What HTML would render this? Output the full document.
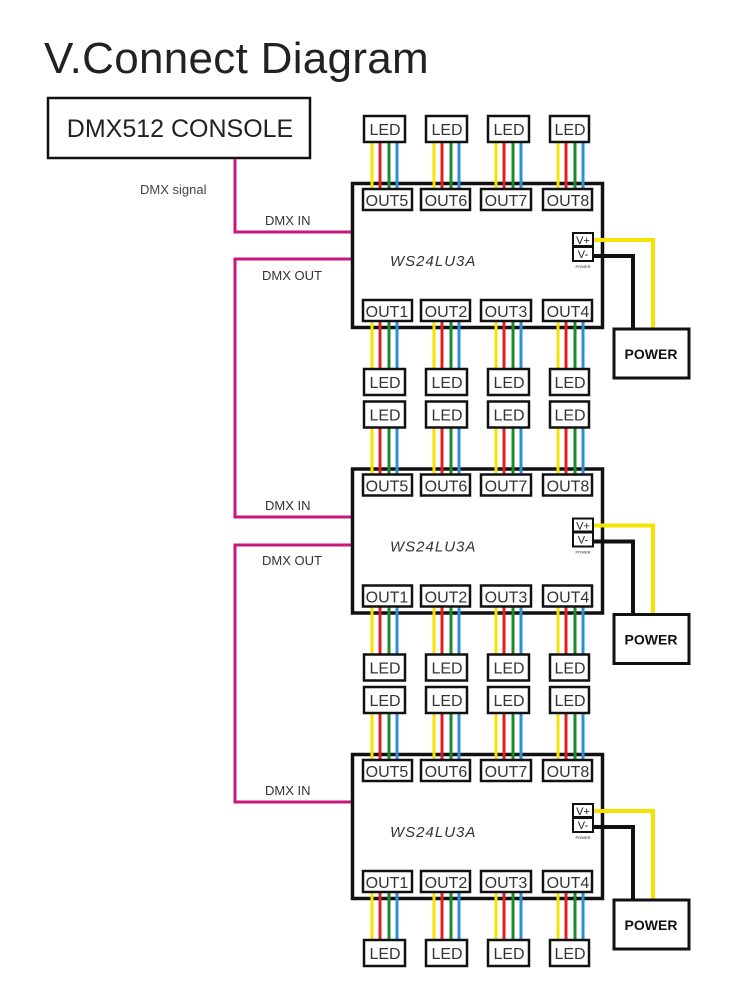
<!DOCTYPE html>
<html><head><meta charset="utf-8"><style>
html,body{margin:0;padding:0;background:#fff;width:750px;height:1000px;overflow:hidden}
svg{display:block}
text{font-family:"Liberation Sans",Arial,sans-serif}
</style></head><body>
<svg width="750" height="1000" viewBox="0 0 750 1000" xmlns="http://www.w3.org/2000/svg">
<text x="44" y="73" font-size="44" fill="#222" letter-spacing="0.3">V.Connect Diagram</text>
<rect x="48" y="98" width="262" height="60" fill="#fff" stroke="#111" stroke-width="2.5"/>
<text x="180" y="137" font-size="25" fill="#222" text-anchor="middle">DMX512 CONSOLE</text>
<text x="140" y="194" font-size="13" fill="#444">DMX  signal</text>
<g fill="none" stroke="#c8177f" stroke-width="3">
<polyline points="235,159 235,232 352,232"/>
<polyline points="352,259 235,259 235,517 352,517"/>
<polyline points="352,545 235,545 235,802 352,802"/>
</g>
<g font-size="13" fill="#333">
<text x="265" y="225">DMX IN</text>
<text x="262" y="280">DMX OUT</text>
<text x="265" y="510">DMX IN</text>
<text x="262" y="565">DMX OUT</text>
<text x="265" y="795">DMX IN</text>
</g>

<g id="m1">
<rect x="352.5" y="183.5" width="250" height="144" fill="none" stroke="#111" stroke-width="3.5"/>
<g stroke-width="3">
<line x1="372" y1="142" x2="372" y2="189" stroke="#f5e400"/><line x1="380" y1="142" x2="380" y2="189" stroke="#e02020"/><line x1="389" y1="142" x2="389" y2="189" stroke="#1a8a30"/><line x1="397" y1="142" x2="397" y2="189" stroke="#2a90d8"/>
<line x1="434" y1="142" x2="434" y2="189" stroke="#f5e400"/><line x1="442" y1="142" x2="442" y2="189" stroke="#e02020"/><line x1="451" y1="142" x2="451" y2="189" stroke="#1a8a30"/><line x1="459" y1="142" x2="459" y2="189" stroke="#2a90d8"/>
<line x1="496" y1="142" x2="496" y2="189" stroke="#f5e400"/><line x1="504" y1="142" x2="504" y2="189" stroke="#e02020"/><line x1="513" y1="142" x2="513" y2="189" stroke="#1a8a30"/><line x1="521" y1="142" x2="521" y2="189" stroke="#2a90d8"/>
<line x1="558" y1="142" x2="558" y2="189" stroke="#f5e400"/><line x1="566" y1="142" x2="566" y2="189" stroke="#e02020"/><line x1="575" y1="142" x2="575" y2="189" stroke="#1a8a30"/><line x1="583" y1="142" x2="583" y2="189" stroke="#2a90d8"/>
<line x1="372" y1="321" x2="372" y2="369" stroke="#f5e400"/><line x1="380" y1="321" x2="380" y2="369" stroke="#e02020"/><line x1="389" y1="321" x2="389" y2="369" stroke="#1a8a30"/><line x1="397" y1="321" x2="397" y2="369" stroke="#2a90d8"/>
<line x1="434" y1="321" x2="434" y2="369" stroke="#f5e400"/><line x1="442" y1="321" x2="442" y2="369" stroke="#e02020"/><line x1="451" y1="321" x2="451" y2="369" stroke="#1a8a30"/><line x1="459" y1="321" x2="459" y2="369" stroke="#2a90d8"/>
<line x1="496" y1="321" x2="496" y2="369" stroke="#f5e400"/><line x1="504" y1="321" x2="504" y2="369" stroke="#e02020"/><line x1="513" y1="321" x2="513" y2="369" stroke="#1a8a30"/><line x1="521" y1="321" x2="521" y2="369" stroke="#2a90d8"/>
<line x1="558" y1="321" x2="558" y2="369" stroke="#f5e400"/><line x1="566" y1="321" x2="566" y2="369" stroke="#e02020"/><line x1="575" y1="321" x2="575" y2="369" stroke="#1a8a30"/><line x1="583" y1="321" x2="583" y2="369" stroke="#2a90d8"/>
</g>
<g fill="#fff" stroke="#111" stroke-width="2.5">
<rect x="364" y="116" width="41" height="26"/><rect x="426" y="116" width="41" height="26"/><rect x="488" y="116" width="41" height="26"/><rect x="550" y="116" width="39" height="26"/>
<rect x="363" y="189" width="49" height="21"/><rect x="421" y="189" width="49" height="21"/><rect x="481" y="189" width="50" height="21"/><rect x="543" y="189" width="49" height="21"/>
<rect x="363" y="300" width="49" height="21"/><rect x="421" y="300" width="49" height="21"/><rect x="481" y="300" width="50" height="21"/><rect x="543" y="300" width="49" height="21"/>
<rect x="364" y="369" width="41" height="26"/><rect x="426" y="369" width="41" height="26"/><rect x="488" y="369" width="41" height="26"/><rect x="550" y="369" width="39" height="26"/>
</g>
<g font-size="16" fill="#333" text-anchor="middle">
<text x="385" y="135">LED</text><text x="447" y="135">LED</text><text x="509" y="135">LED</text><text x="570" y="135">LED</text>
<text x="387" y="206">OUT5</text><text x="446" y="206">OUT6</text><text x="506" y="206">OUT7</text><text x="568" y="206">OUT8</text>
<text x="387" y="317">OUT1</text><text x="446" y="317">OUT2</text><text x="506" y="317">OUT3</text><text x="568" y="317">OUT4</text>
<text x="385" y="388">LED</text><text x="447" y="388">LED</text><text x="509" y="388">LED</text><text x="570" y="388">LED</text>
</g>
<text x="390" y="266" font-size="15" font-style="italic" fill="#333" letter-spacing="1">WS24LU3A</text>
<polyline points="593,240 653,240 653,329" fill="none" stroke="#f5e400" stroke-width="4"/>
<polyline points="593,256 633,256 633,329" fill="none" stroke="#111" stroke-width="4"/>
<rect x="573" y="233" width="20" height="13" fill="#fff" stroke="#111" stroke-width="2"/>
<rect x="573" y="247" width="20" height="14" fill="#fff" stroke="#111" stroke-width="2"/>
<text x="583" y="244" font-size="11" text-anchor="middle" fill="#222">V+</text>
<text x="583" y="258" font-size="11" text-anchor="middle" fill="#222">V-</text>
<text x="583" y="268" font-size="4" text-anchor="middle" fill="#222">POWER</text>
<rect x="614" y="329" width="75" height="49" fill="#fff" stroke="#111" stroke-width="3"/>
<text x="651" y="359" font-size="14" font-weight="bold" text-anchor="middle" fill="#111">POWER</text>
</g>
<g transform="translate(0,285.5)">
<rect x="352.5" y="183.5" width="250" height="144" fill="none" stroke="#111" stroke-width="3.5"/>
<g stroke-width="3">
<line x1="372" y1="142" x2="372" y2="189" stroke="#f5e400"/><line x1="380" y1="142" x2="380" y2="189" stroke="#e02020"/><line x1="389" y1="142" x2="389" y2="189" stroke="#1a8a30"/><line x1="397" y1="142" x2="397" y2="189" stroke="#2a90d8"/>
<line x1="434" y1="142" x2="434" y2="189" stroke="#f5e400"/><line x1="442" y1="142" x2="442" y2="189" stroke="#e02020"/><line x1="451" y1="142" x2="451" y2="189" stroke="#1a8a30"/><line x1="459" y1="142" x2="459" y2="189" stroke="#2a90d8"/>
<line x1="496" y1="142" x2="496" y2="189" stroke="#f5e400"/><line x1="504" y1="142" x2="504" y2="189" stroke="#e02020"/><line x1="513" y1="142" x2="513" y2="189" stroke="#1a8a30"/><line x1="521" y1="142" x2="521" y2="189" stroke="#2a90d8"/>
<line x1="558" y1="142" x2="558" y2="189" stroke="#f5e400"/><line x1="566" y1="142" x2="566" y2="189" stroke="#e02020"/><line x1="575" y1="142" x2="575" y2="189" stroke="#1a8a30"/><line x1="583" y1="142" x2="583" y2="189" stroke="#2a90d8"/>
<line x1="372" y1="321" x2="372" y2="369" stroke="#f5e400"/><line x1="380" y1="321" x2="380" y2="369" stroke="#e02020"/><line x1="389" y1="321" x2="389" y2="369" stroke="#1a8a30"/><line x1="397" y1="321" x2="397" y2="369" stroke="#2a90d8"/>
<line x1="434" y1="321" x2="434" y2="369" stroke="#f5e400"/><line x1="442" y1="321" x2="442" y2="369" stroke="#e02020"/><line x1="451" y1="321" x2="451" y2="369" stroke="#1a8a30"/><line x1="459" y1="321" x2="459" y2="369" stroke="#2a90d8"/>
<line x1="496" y1="321" x2="496" y2="369" stroke="#f5e400"/><line x1="504" y1="321" x2="504" y2="369" stroke="#e02020"/><line x1="513" y1="321" x2="513" y2="369" stroke="#1a8a30"/><line x1="521" y1="321" x2="521" y2="369" stroke="#2a90d8"/>
<line x1="558" y1="321" x2="558" y2="369" stroke="#f5e400"/><line x1="566" y1="321" x2="566" y2="369" stroke="#e02020"/><line x1="575" y1="321" x2="575" y2="369" stroke="#1a8a30"/><line x1="583" y1="321" x2="583" y2="369" stroke="#2a90d8"/>
</g>
<g fill="#fff" stroke="#111" stroke-width="2.5">
<rect x="364" y="116" width="41" height="26"/><rect x="426" y="116" width="41" height="26"/><rect x="488" y="116" width="41" height="26"/><rect x="550" y="116" width="39" height="26"/>
<rect x="363" y="189" width="49" height="21"/><rect x="421" y="189" width="49" height="21"/><rect x="481" y="189" width="50" height="21"/><rect x="543" y="189" width="49" height="21"/>
<rect x="363" y="300" width="49" height="21"/><rect x="421" y="300" width="49" height="21"/><rect x="481" y="300" width="50" height="21"/><rect x="543" y="300" width="49" height="21"/>
<rect x="364" y="369" width="41" height="26"/><rect x="426" y="369" width="41" height="26"/><rect x="488" y="369" width="41" height="26"/><rect x="550" y="369" width="39" height="26"/>
</g>
<g font-size="16" fill="#333" text-anchor="middle">
<text x="385" y="135">LED</text><text x="447" y="135">LED</text><text x="509" y="135">LED</text><text x="570" y="135">LED</text>
<text x="387" y="206">OUT5</text><text x="446" y="206">OUT6</text><text x="506" y="206">OUT7</text><text x="568" y="206">OUT8</text>
<text x="387" y="317">OUT1</text><text x="446" y="317">OUT2</text><text x="506" y="317">OUT3</text><text x="568" y="317">OUT4</text>
<text x="385" y="388">LED</text><text x="447" y="388">LED</text><text x="509" y="388">LED</text><text x="570" y="388">LED</text>
</g>
<text x="390" y="266" font-size="15" font-style="italic" fill="#333" letter-spacing="1">WS24LU3A</text>
<polyline points="593,240 653,240 653,329" fill="none" stroke="#f5e400" stroke-width="4"/>
<polyline points="593,256 633,256 633,329" fill="none" stroke="#111" stroke-width="4"/>
<rect x="573" y="233" width="20" height="13" fill="#fff" stroke="#111" stroke-width="2"/>
<rect x="573" y="247" width="20" height="14" fill="#fff" stroke="#111" stroke-width="2"/>
<text x="583" y="244" font-size="11" text-anchor="middle" fill="#222">V+</text>
<text x="583" y="258" font-size="11" text-anchor="middle" fill="#222">V-</text>
<text x="583" y="268" font-size="4" text-anchor="middle" fill="#222">POWER</text>
<rect x="614" y="329" width="75" height="49" fill="#fff" stroke="#111" stroke-width="3"/>
<text x="651" y="359" font-size="14" font-weight="bold" text-anchor="middle" fill="#111">POWER</text>
</g>
<g transform="translate(0,571)">
<rect x="352.5" y="183.5" width="250" height="144" fill="none" stroke="#111" stroke-width="3.5"/>
<g stroke-width="3">
<line x1="372" y1="142" x2="372" y2="189" stroke="#f5e400"/><line x1="380" y1="142" x2="380" y2="189" stroke="#e02020"/><line x1="389" y1="142" x2="389" y2="189" stroke="#1a8a30"/><line x1="397" y1="142" x2="397" y2="189" stroke="#2a90d8"/>
<line x1="434" y1="142" x2="434" y2="189" stroke="#f5e400"/><line x1="442" y1="142" x2="442" y2="189" stroke="#e02020"/><line x1="451" y1="142" x2="451" y2="189" stroke="#1a8a30"/><line x1="459" y1="142" x2="459" y2="189" stroke="#2a90d8"/>
<line x1="496" y1="142" x2="496" y2="189" stroke="#f5e400"/><line x1="504" y1="142" x2="504" y2="189" stroke="#e02020"/><line x1="513" y1="142" x2="513" y2="189" stroke="#1a8a30"/><line x1="521" y1="142" x2="521" y2="189" stroke="#2a90d8"/>
<line x1="558" y1="142" x2="558" y2="189" stroke="#f5e400"/><line x1="566" y1="142" x2="566" y2="189" stroke="#e02020"/><line x1="575" y1="142" x2="575" y2="189" stroke="#1a8a30"/><line x1="583" y1="142" x2="583" y2="189" stroke="#2a90d8"/>
<line x1="372" y1="321" x2="372" y2="369" stroke="#f5e400"/><line x1="380" y1="321" x2="380" y2="369" stroke="#e02020"/><line x1="389" y1="321" x2="389" y2="369" stroke="#1a8a30"/><line x1="397" y1="321" x2="397" y2="369" stroke="#2a90d8"/>
<line x1="434" y1="321" x2="434" y2="369" stroke="#f5e400"/><line x1="442" y1="321" x2="442" y2="369" stroke="#e02020"/><line x1="451" y1="321" x2="451" y2="369" stroke="#1a8a30"/><line x1="459" y1="321" x2="459" y2="369" stroke="#2a90d8"/>
<line x1="496" y1="321" x2="496" y2="369" stroke="#f5e400"/><line x1="504" y1="321" x2="504" y2="369" stroke="#e02020"/><line x1="513" y1="321" x2="513" y2="369" stroke="#1a8a30"/><line x1="521" y1="321" x2="521" y2="369" stroke="#2a90d8"/>
<line x1="558" y1="321" x2="558" y2="369" stroke="#f5e400"/><line x1="566" y1="321" x2="566" y2="369" stroke="#e02020"/><line x1="575" y1="321" x2="575" y2="369" stroke="#1a8a30"/><line x1="583" y1="321" x2="583" y2="369" stroke="#2a90d8"/>
</g>
<g fill="#fff" stroke="#111" stroke-width="2.5">
<rect x="364" y="116" width="41" height="26"/><rect x="426" y="116" width="41" height="26"/><rect x="488" y="116" width="41" height="26"/><rect x="550" y="116" width="39" height="26"/>
<rect x="363" y="189" width="49" height="21"/><rect x="421" y="189" width="49" height="21"/><rect x="481" y="189" width="50" height="21"/><rect x="543" y="189" width="49" height="21"/>
<rect x="363" y="300" width="49" height="21"/><rect x="421" y="300" width="49" height="21"/><rect x="481" y="300" width="50" height="21"/><rect x="543" y="300" width="49" height="21"/>
<rect x="364" y="369" width="41" height="26"/><rect x="426" y="369" width="41" height="26"/><rect x="488" y="369" width="41" height="26"/><rect x="550" y="369" width="39" height="26"/>
</g>
<g font-size="16" fill="#333" text-anchor="middle">
<text x="385" y="135">LED</text><text x="447" y="135">LED</text><text x="509" y="135">LED</text><text x="570" y="135">LED</text>
<text x="387" y="206">OUT5</text><text x="446" y="206">OUT6</text><text x="506" y="206">OUT7</text><text x="568" y="206">OUT8</text>
<text x="387" y="317">OUT1</text><text x="446" y="317">OUT2</text><text x="506" y="317">OUT3</text><text x="568" y="317">OUT4</text>
<text x="385" y="388">LED</text><text x="447" y="388">LED</text><text x="509" y="388">LED</text><text x="570" y="388">LED</text>
</g>
<text x="390" y="266" font-size="15" font-style="italic" fill="#333" letter-spacing="1">WS24LU3A</text>
<polyline points="593,240 653,240 653,329" fill="none" stroke="#f5e400" stroke-width="4"/>
<polyline points="593,256 633,256 633,329" fill="none" stroke="#111" stroke-width="4"/>
<rect x="573" y="233" width="20" height="13" fill="#fff" stroke="#111" stroke-width="2"/>
<rect x="573" y="247" width="20" height="14" fill="#fff" stroke="#111" stroke-width="2"/>
<text x="583" y="244" font-size="11" text-anchor="middle" fill="#222">V+</text>
<text x="583" y="258" font-size="11" text-anchor="middle" fill="#222">V-</text>
<text x="583" y="268" font-size="4" text-anchor="middle" fill="#222">POWER</text>
<rect x="614" y="329" width="75" height="49" fill="#fff" stroke="#111" stroke-width="3"/>
<text x="651" y="359" font-size="14" font-weight="bold" text-anchor="middle" fill="#111">POWER</text>
</g>
</svg>
</body></html>
